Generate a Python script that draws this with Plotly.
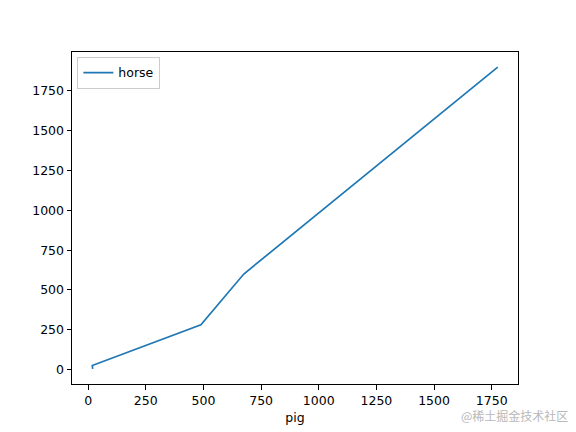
import plotly.graph_objs as go

# pandas demo frame: pig vs horse
pig = [20, 18, 489, 675, 1776]
horse = [4, 25, 281, 600, 1900]

x_ticks = [0, 250, 500, 750, 1000, 1250, 1500, 1750]
y_ticks = [0, 250, 500, 750, 1000, 1250, 1500, 1750]

# matplotlib-like 5% padding
xr = max(pig) - min(pig)
yr = max(horse) - min(horse)
x_range = [min(pig) - 0.05 * xr, max(pig) + 0.05 * xr]
y_range = [min(horse) - 0.05 * yr, max(horse) + 0.05 * yr]

fig = go.Figure()

fig.add_trace(go.Scatter(
    x=pig,
    y=horse,
    mode="lines",
    name="horse",
    line=dict(color="#1f77b4", width=1.7)
))

axis_style = dict(
    showgrid=False,
    zeroline=False,
    showline=True,
    linecolor="black",
    linewidth=1,
    mirror=True,
    ticks="outside",
    ticklen=4.5,
    tickwidth=1,
    tickcolor="black",
    tickfont=dict(family="DejaVu Sans", size=12.5, color="black"),
)

# page body adds ~8px offset, so margins are shifted to compensate
fig.update_layout(
    width=576,
    height=432,
    margin=dict(l=64, r=66, t=44, b=56),
    paper_bgcolor="white",
    plot_bgcolor="white",
    font=dict(family="DejaVu Sans", size=12.5, color="black"),
    xaxis=dict(range=x_range, tickvals=x_ticks,
               title=dict(text="pig", standoff=6,
                          font=dict(family="DejaVu Sans", size=12.5)),
               **axis_style),
    yaxis=dict(range=y_range, tickvals=y_ticks, **axis_style),
    legend=dict(
        x=0.012, y=0.985, xanchor="left", yanchor="top",
        bgcolor="rgba(255,255,255,0.8)",
        bordercolor="#cccccc", borderwidth=1,
        font=dict(family="DejaVu Sans", size=12.5),
    ),
    showlegend=True,
)

fig.add_annotation(
    text="@稀土掘金技术社区",
    xref="paper", yref="paper",
    x=1.117, y=-0.125, xanchor="right", yanchor="bottom",
    showarrow=False,
    font=dict(family="Noto Sans CJK SC", size=12, color="#b8b8b8"),
)

fig.write_html("out.html")
